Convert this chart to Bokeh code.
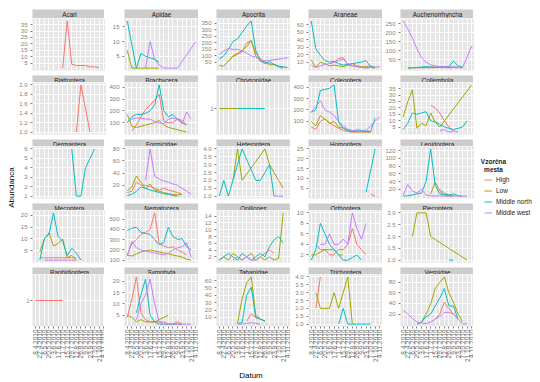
import math
from bokeh.plotting import figure
from bokeh.layouts import row, column, gridplot
from bokeh.models import Range1d, FixedTicker, Legend, LegendItem, Label, PrintfTickFormatter
from bokeh.embed import file_html
from bokeh.resources import INLINE

_ = None

# ---------------- data ----------------
dates = ["8.4.2010", "22.4.2010", "6.5.2010", "20.5.2010", "3.6.2010", "17.6.2010",
         "1.7.2010", "15.7.2010", "29.7.2010", "12.8.2010", "26.8.2010", "9.9.2010",
         "23.9.2010", "7.10.2010", "21.10.2010", "4.11.2010"]
series = ["High", "Low", "Middle north", "Middle west"]
colors = ["#F8766D", "#A3A500", "#00BFC4", "#C77CFF"]

acari = {"High": [_, _, _, _, _, _, 1, 38, 4, 3, 3, 3, 2, 2, 1.5, _]}
acari_ticks = [5, 10, 15, 20, 25, 30, 35]

apidae = {"Low": [7, 1, 1, 1, 1, 1, 1, 1, _, _, _, _, _, _, _, _],
          "Middle north": [17, 9, 1, 6, 5, 4.5, 4, 3, _, _, _, _, _, _, _, _],
          "Middle west": [_, _, _, _, 1, 10, 4, 2, 1, 1, 1, 1, _, _, _, 10]}
apidae_ticks = [5, 10, 15]

apocrita = {"High": [_, _, 60, 95, 110, 130, 200, 215, 120, 80, 50, 40, 30, 20, 10, _],
            "Low": [25, 20, 60, 100, 120, 140, 170, 220, 100, 60, 55, 30, 35, 15, 5, _],
            "Middle north": [75, 100, 150, 210, 230, 280, 330, 370, 140, 60, 40, 55, 35, 20, 15, 10],
            "Middle west": [110, 140, 155, 150, 150, 140, 120, 100, 90, 70, 60, 65, 70, 75, 80, 85]}
apocrita_ticks = [50, 100, 150, 200, 250, 300, 350]

araneae = {"High": [_, _, _, _, 8, 10, 15, 16, 6, 5, 4, 3, 4, 5, 3, _],
           "Low": [13, 3, 10, 8, 5, 6, 5, 4, 6, 8, 5, 4, 3, 3, 2, _],
           "Middle north": [65, 28, 19, 12, 10, 11, 8, 6, 7, 8, 9, 10, 12, 4, 3, _],
           "Middle west": [6, 3, 5, 7, 8, 10, 12, 14, 8, 5, 4, 3, 2, 3, 3, 4]}
araneae_ticks = [10, 20, 30, 40, 50, 60]

auchenorrhyncha = {"High": [_, _, _, _, 3, 5, 4, 5, 6, 5, 4, 5, 5, 3, _, _],
                   "Low": [_, 2, 3, 5, 5, 6, 8, 7, 5, 6, 5, 8, 5, _, _, _],
                   "Middle north": [_, 3, 4, 5, 8, 10, 8, 6, 10, 8, 12, 40, 15, 8, _, _],
                   "Middle west": [265, 220, 170, 110, 60, 35, 20, 15, 10, 10, 10, 8, 8, 5, _, 125]}
auchenorrhyncha_ticks = [50, 100, 150, 200, 250]

blattoptera = {"High": [_, _, _, _, _, _, _, _, _, 1, 2, _, 1, _, _, _]}
blattoptera_ticks = [1.0, 1.2, 1.4, 1.6, 1.8, 2.0]

brachycera = {"High": [_, 30, 80, 150, 210, 250, 290, 340, 110, 100, 100, 130, 120, 80, _, _],
              "Low": [170, 70, 60, 70, 80, 90, 100, 120, 80, 60, 50, 40, 30, 20, _, _],
              "Middle north": [100, 150, 170, 170, 180, 200, 250, 420, 200, 150, 170, 130, 100, 80, _, _],
              "Middle west": [100, 130, 140, 140, 130, 130, 110, 100, 90, 130, 140, 130, 90, 190, 130, _]}
brachycera_ticks = [100, 200, 300, 400]

chrysopidae = {"Low": [1, 1, 1, 1, 1, _, _, _, _, _, _, _, _, _, _, _],
               "Middle north": [_, _, _, _, 1, 1, 1, 1, 1, 1, 1, _, _, _, _, _]}
chrysopidae_ticks = [1]

coleoptera = {"High": [50, 30, 100, 120, 90, 60, 40, 20, 10, 5, 5, 10, 5, 5, _, _],
              "Low": [100, 60, 150, 120, 80, 100, 50, 40, 20, 10, 10, 5, 10, 5, _, _],
              "Middle north": [180, 200, 370, 380, 390, 420, 90, 40, 20, 10, 25, 20, 15, 10, 130, _],
              "Middle west": [180, 230, 280, 200, 180, 150, 100, 60, 30, 20, 15, 10, 20, 60, 100, 140]}
coleoptera_ticks = [100, 200, 300, 400]

collembola = {"High": [_, _, _, _, _, _, 22, 20, 16, 10, 5, 2, _, _, _, _],
              "Low": [13, 25, 34, 4, 8, 6, 16, 9, 5, _, _, _, _, _, _, 38],
              "Middle north": [3, 8, 16, 15, 16, 17, 10, 9, 7, 5, 4, 3, 4, 5, 10, _],
              "Middle west": [_, _, _, _, _, _, _, _, 2, 3, 1, 2, 1, _, _, _]}
collembola_ticks = [5, 10, 15, 20, 25, 30, 35]

dermaptera = {"Middle north": [_, _, _, _, _, _, _, _, 6, 1, 1, 4, _, 6, _, _]}
dermaptera_ticks = [1, 2, 3, 4, 5, 6]

formicidae = {"High": [8, 10, 25, 20, 20, 18, 15, 12, 15, 12, 10, 8, 5, _, _, _],
              "Low": [11, 17, 35, 25, 14, 22, 12, 10, 8, 6, 5, 4, 5, _, _, _],
              "Middle north": [3, 5, 10, 17, 15, 12, 10, 8, 6, 5, 3, 2, _, _, _, _],
              "Middle west": [_, _, _, _, 28, 80, 35, 30, 27, 25, 22, 20, 15, 10, 5, _]}
formicidae_ticks = [20, 40, 60, 80]

heteroptera = {"Low": [_, _, _, 2, 4, 2, _, _, _, _, 4, 3, _, 2, 1.5, _],
               "Middle north": [1, 2, 1, _, _, 4, _, _, 2, 2, _, 3, 1, _, _, _],
               "Middle west": [_, _, _, _, _, _, _, _, _, _, _, _, 1, 1, 1, _]}
heteroptera_ticks = [1.0, 1.5, 2.0, 2.5, 3.0, 3.5, 4.0]

homoptera = {"High": [_, _, _, _, _, _, _, _, _, _, _, _, _, 2, 1, _],
             "Middle north": [_, _, _, _, _, _, _, _, _, _, _, _, 3, _, 25, _]}
homoptera_ticks = [5, 10, 15, 20, 25]

lepidoptera = {"High": [_, _, _, _, _, _, _, _, 20, 10, 5, 3, _, _, _, _],
               "Low": [_, _, _, _, _, _, 8, 38, 15, 5, 3, 2, _, _, _, _],
               "Middle north": [2, 3, 5, 8, 10, 40, 125, 30, 8, 6, 5, 8, 3, 2, _, _],
               "Middle west": [5, 32, 15, 10, 20, 5, 3, 2, 3, 2, 2, 3, 2, 2, 2, _]}
lepidoptera_ticks = [20, 40, 60, 80, 100, 120]

mecoptera = {"High": [_, 2, 2, 2, 2, 2, 2, 2, 2, 2, _, _, _, _, _, _],
             "Low": [_, 4.5, 10, 12.5, 7, 8, 10, 2, 3, 1, _, _, _, _, _, _],
             "Middle north": [_, 1, 10, 12, 21, 11, 9, 3, 6, 4, 1, _, _, _, _, _],
             "Middle west": [_, _, 1, 1, 1, 1, 1, 1, 1, 1, _, _, _, _, _, _]}
mecoptera_ticks = [5, 10, 15, 20]

nematocera = {"High": [150, 260, 300, 350, 370, 400, 560, 260, 240, 220, 230, 200, 180, 150, _, _],
              "Low": [150, 140, 160, 180, 190, 200, 190, 180, 170, 160, 150, 140, 130, 110, 100, _],
              "Middle north": [390, 410, 420, 370, 360, 350, 300, 250, 270, 420, 330, 300, 310, 230, 200, _],
              "Middle west": [140, 280, 220, 200, 190, 180, 170, 160, 150, 170, 200, 220, 230, 270, 130, _]}
nematocera_ticks = [100, 200, 300, 400, 500]

opiliones = {"High": [_, _, _, _, _, _, _, _, _, 2, 3, 4, 3, _, _, _],
             "Low": [1, 2, 1, 3, 2, 1, 2, 3, 1, 2, 1, 2, 1, 1.5, 15, _],
             "Middle north": [1, 2, 3, 2, 1, 3, 2, 1, 2, 3, 2, 5, 7, 8, 6, _],
             "Middle west": [_, _, _, 1, 2, 1, 2, 1, 1, 2, _, _, _, _, _, _]}
opiliones_ticks = [2, 4, 6, 8, 10, 12, 14]

orthoptera = {"High": [_, 4, 3, 3, 2, 2, 3, 3, 4, 7, 4, 3, 2, _, _, _],
              "Low": [2, 2, 2.5, 3, 3, 3, 2, 2, _, _, _, _, _, _, _, _],
              "Middle north": [1, 3, 8, 6, 4, 3, 2, 1, 1, 1.5, 2, 1, _, _, _, _],
              "Middle west": [_, _, 4, 4, 6, 4, 4, 5, 4, 10, 7, 5, 8, _, _, _]}
orthoptera_ticks = [2, 4, 6, 8, 10]

plecoptera = {"Low": [_, _, 2, 3, _, 3, 2, _, _, _, _, _, _, _, 1, _],
              "Middle north": [_, _, _, _, _, _, _, _, _, _, 1, 1, _, _, _, _]}
plecoptera_ticks = [1.0, 1.5, 2.0, 2.5, 3.0]

raphidioptera = {"High": [1, 1, 1, 1, 1, 1, 1, _, _, _, _, _, _, _, _, _]}
raphidioptera_ticks = [1]

symphyta = {"High": [4, 12, 22, 6, 3, 2, 2, 2, 2, 1, 1, 2, 1, _, _, _],
            "Low": [5, 4, 2, 3, 2, 2, 2, 3, 4, 5, _, _, _, _, _, _],
            "Middle north": [_, _, 6, 14, 21, 5, 2, 1, 1, 1, 1, 1, 1, _, _, _],
            "Middle west": [_, _, 3, 10, 14, 21, 10, 2, 1, 1, 1, 1, 1, 1, 1, _]}
symphyta_ticks = [5, 10, 15, 20]

tabanidae = {"High": [_, _, _, _, _, _, 5, 15, 10, 8, 5, _, _, _, _, _],
             "Low": [_, _, _, _, 2, 35, 57, 65, 13, 8, 5, _, _, _, _, _],
             "Middle north": [_, _, _, _, 2, 3, 40, 51, 10, 8, 5, _, _, _, _, _],
             "Middle west": [_, _, _, _, 1, 1, 2, 3, 2, 1, _, _, _, _, _, _]}
tabanidae_ticks = [10, 20, 30, 40, 50, 60]

trichoptera = {"High": [_, 2, 4, _, _, _, _, _, _, _, _, _, _, _, _, _],
               "Low": [_, 3, 2, _, 2, 3, 2, _, 4, 1, _, _, _, _, _, _],
               "Middle north": [_, _, _, _, _, _, 1, 2, 1, 1, 1, 1, 1, 1, _, _]}
trichoptera_ticks = [1.0, 1.5, 2.0, 2.5, 3.0, 3.5, 4.0]

vespidae = {"High": [_, _, _, _, _, _, _, 10, 20, 42, 30, 20, 10, _, _, _],
            "Low": [_, _, _, 1, 5, 20, 39, 68, 80, 90, 60, 42, 20, 5, _, _],
            "Middle north": [_, _, _, 1, 5, 15, 20, 35, 50, 68, 35, 35, 10, _, _, _],
            "Middle west": [27, 20, 12, 5, 3, 2, 5, 10, 16, 23, 23, 20, 10, 1, 2, _]}
vespidae_ticks = [20, 40, 60, 80]

taxa = [("Acari", acari, acari_ticks), ("Apidae", apidae, apidae_ticks),
        ("Apocrita", apocrita, apocrita_ticks), ("Araneae", araneae, araneae_ticks),
        ("Auchenorrhyncha", auchenorrhyncha, auchenorrhyncha_ticks),
        ("Blattoptera", blattoptera, blattoptera_ticks), ("Brachycera", brachycera, brachycera_ticks),
        ("Chrysopidae", chrysopidae, chrysopidae_ticks), ("Coleoptera", coleoptera, coleoptera_ticks),
        ("Collembola", collembola, collembola_ticks),
        ("Dermaptera", dermaptera, dermaptera_ticks), ("Formicidae", formicidae, formicidae_ticks),
        ("Heteroptera", heteroptera, heteroptera_ticks), ("Homoptera", homoptera, homoptera_ticks),
        ("Lepidoptera", lepidoptera, lepidoptera_ticks),
        ("Mecoptera", mecoptera, mecoptera_ticks), ("Nematocera", nematocera, nematocera_ticks),
        ("Opiliones", opiliones, opiliones_ticks), ("Orthoptera", orthoptera, orthoptera_ticks),
        ("Plecoptera", plecoptera, plecoptera_ticks),
        ("Raphidioptera", raphidioptera, raphidioptera_ticks), ("Symphyta", symphyta, symphyta_ticks),
        ("Tabanidae", tabanidae, tabanidae_ticks), ("Trichoptera", trichoptera, trichoptera_ticks),
        ("Vespidae", vespidae, vespidae_ticks)]

legend_title = ["Vzorčna", "mesta"]

# ---------------- style / layout ----------------
FONT = "Liberation Sans"
NCOL = 5
PW, PH, SH, GAP = 74, 52, 9, 2
TOP = 9                            # space above the first strip row
XAX_H = 36                         # room for the rotated date labels
BL = [14, 18, 18, 18, 17]          # left border (tick label room) per column
YT_W = 16
GRID_H = TOP + SH + 4 * (SH + 1) + 4 * (PH + GAP) + PH + XAX_H
DT_H = 18
LEG_W = 69
PANEL_BG = "#E5E5E5"
STRIP_BG = "#CCCCCC"
TICK_COL = "#7F7F7F"
levels = list(range(1, len(dates) + 1))


def y_limits(data):
    vals = [v for s in data.values() for v in s if v is not None]
    lo, hi = min(vals), max(vals)
    if hi == lo:
        return lo - 0.5, hi + 0.5
    pad = 0.05 * (hi - lo)
    return lo - pad, hi + pad


def minor_of(ticks):
    if len(ticks) < 2:
        return []
    step = ticks[1] - ticks[0]
    mids = [(a + b) / 2 for a, b in zip(ticks, ticks[1:])]
    return [ticks[0] - step / 2] + mids + [ticks[-1] + step / 2]


def bare(fig):
    fig.xgrid.visible = False
    fig.ygrid.visible = False
    return fig


def make_strip(name, col, first):
    s = figure(frame_width=PW, frame_height=SH, x_range=Range1d(0, 1), y_range=Range1d(0, 1),
               x_axis_location=None, y_axis_location=None, toolbar_location=None,
               output_backend="svg", min_border_left=BL[col], min_border_right=0,
               min_border_top=TOP if first else 1, min_border_bottom=0,
               background_fill_color=STRIP_BG, outline_line_color=None)
    bare(s)
    s.add_layout(Label(x=0.5, y=0.5, text=name, text_align="center", text_baseline="middle",
                       text_font=FONT, text_font_size="6.3px", text_color="#1A1A1A"))
    return s


def make_panel(data, yt, col, last):
    lo, hi = y_limits(data)
    p = figure(frame_width=PW, frame_height=PH,
               x_range=Range1d(levels[0] - 0.6, levels[-1] + 0.6), y_range=Range1d(lo, hi),
               x_axis_location="below" if last else None, y_axis_location="left",
               toolbar_location=None, output_backend="svg",
               min_border_left=BL[col], min_border_right=0, min_border_top=0,
               min_border_bottom=XAX_H if last else GAP,
               background_fill_color=PANEL_BG, outline_line_color=None)
    p.xgrid.ticker = FixedTicker(ticks=levels)
    p.xgrid.grid_line_color = "white"
    p.xgrid.grid_line_width = 0.9
    p.yaxis.ticker = FixedTicker(ticks=yt, minor_ticks=minor_of(yt))
    p.ygrid.grid_line_color = "white"
    p.ygrid.grid_line_width = 0.9
    p.ygrid.minor_grid_line_color = "#F2F2F2"
    p.ygrid.minor_grid_line_width = 0.5
    ax = p.yaxis[0]
    if any(float(t) != int(t) for t in yt):
        ax.formatter = PrintfTickFormatter(format="%.1f")
    ax.axis_line_color = None
    ax.major_tick_line_color = TICK_COL
    ax.major_tick_out = 2
    ax.major_tick_in = 0
    ax.minor_tick_line_color = None
    ax.major_label_text_font = FONT
    ax.major_label_text_font_size = "6px"
    ax.major_label_text_color = TICK_COL
    ax.major_label_standoff = 1
    if last:
        xa = p.xaxis[0]
        xa.ticker = FixedTicker(ticks=levels)
        xa.major_label_overrides = {lv: d for lv, d in zip(levels, dates)}
        xa.major_label_orientation = math.pi / 2
        xa.axis_line_color = None
        xa.major_tick_line_color = TICK_COL
        xa.major_tick_out = 2
        xa.major_tick_in = 0
        xa.minor_tick_line_color = None
        xa.major_label_text_font = FONT
        xa.major_label_text_font_size = "6.5px"
        xa.major_label_text_color = "#6A6A6A"
        xa.major_label_standoff = 1
    for s, c in zip(series, colors):
        vals = data.get(s)
        if not vals:
            continue
        xs = [lv for lv, v in zip(levels, vals) if v is not None]
        ys = [v for v in vals if v is not None]
        if len(xs) > 1:
            p.line(xs, ys, line_color=c, line_width=1)
    return p


nrows = len(taxa) // NCOL
grid_children = []
for r in range(nrows):
    strips, panels = [], []
    for c in range(NCOL):
        name, data, yt = taxa[r * NCOL + c]
        strips.append(make_strip(name, c, r == 0))
        panels.append(make_panel(data, yt, c, r == nrows - 1))
    grid_children.append(strips)
    grid_children.append(panels)
grid = gridplot(grid_children, toolbar_location=None)

# y title (y grows downward from the top of the figure)
yt_fig = bare(figure(frame_width=YT_W, frame_height=GRID_H, x_range=Range1d(0, YT_W),
                     y_range=Range1d(GRID_H, 0), x_axis_location=None, y_axis_location=None,
                     toolbar_location=None, output_backend="svg", min_border=0, outline_line_color=None))
yt_fig.add_layout(Label(x=10.7, y=187, text="Abundanca", angle=math.pi / 2, text_align="center",
                        text_baseline="middle", text_font=FONT, text_font_size="8px", text_color="black"))

# legend (y grows downward from the top of the figure)
lf = bare(figure(frame_width=LEG_W, frame_height=GRID_H, x_range=Range1d(0, LEG_W),
                 y_range=Range1d(GRID_H, 0), x_axis_location=None, y_axis_location=None,
                 toolbar_location=None, output_backend="svg", min_border=0, outline_line_color=None))
for i, t in enumerate(legend_title):
    lf.add_layout(Label(x=19, y=160.7 + 8.3 * i, text=t, text_align="center", text_baseline="middle",
                        text_font=FONT, text_font_size="6.5px", text_font_style="bold",
                        text_color="#1A1A1A"))
items = []
nan = float("nan")
for s, c in zip(series, colors):
    rr = lf.line(x=[nan, nan], y=[nan, nan], line_color=c, line_width=1)
    items.append(LegendItem(label=s, renderers=[rr]))
leg = Legend(items=items, location=(10, GRID_H - 218), padding=0, margin=0, spacing=0,
             glyph_width=8, glyph_height=11, label_height=11, label_standoff=4,
             label_text_font=FONT, label_text_font_size="6.5px", label_text_color="#1A1A1A",
             border_line_color=None, background_fill_alpha=0)
lf.add_layout(leg, "center")

# x title
DT_W = YT_W + sum(BL) + NCOL * PW
dt_fig = bare(figure(frame_width=DT_W, frame_height=DT_H, x_range=Range1d(0, DT_W), y_range=Range1d(DT_H, 0),
                     x_axis_location=None, y_axis_location=None, toolbar_location=None,
                     output_backend="svg", min_border=0, outline_line_color=None))
panels_center = YT_W + BL[0] + (NCOL * PW + sum(BL[1:])) / 2
dt_fig.add_layout(Label(x=panels_center, y=10, text="Datum", text_align="center", text_baseline="middle",
                        text_font=FONT, text_font_size="8px", text_color="black"))

page = column(row(yt_fig, grid, lf), dt_fig)

open("out.html", "w").write(file_html(page, INLINE))
